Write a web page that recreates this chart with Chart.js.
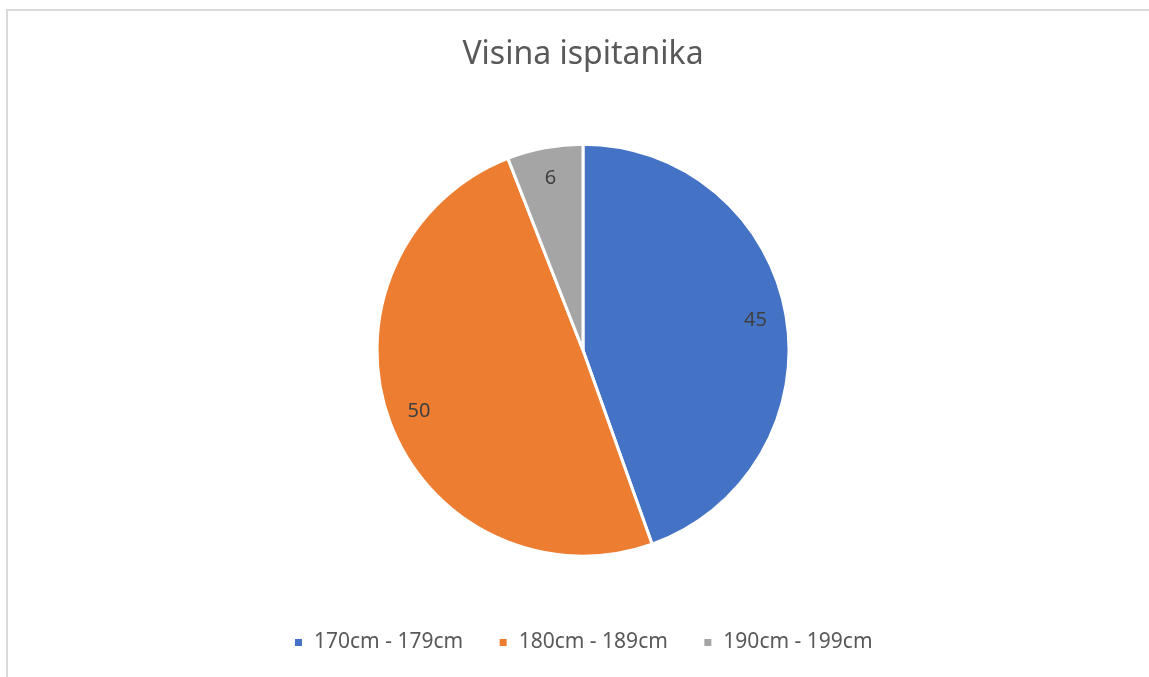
<!DOCTYPE html>
<html>
<head>
<meta charset="utf-8">
<script src="https://cdn.jsdelivr.net/npm/chart.js@4"></script>
<style>
  html, body { margin: 0; padding: 0; background: #fff; overflow: hidden; }
  #frame { position: absolute; left: 6px; top: 9px; width: 1160px; height: 700px; border: 2px solid #d9d9d9; box-sizing: border-box; }
  #wrap { position: absolute; left: 0; top: 0; width: 1149px; height: 677px; }
</style>
</head>
<body>
<div id="frame"></div>
<div id="wrap"><canvas id="pieChart"></canvas></div>
<script>
const categories = ['170cm - 179cm', '180cm - 189cm', '190cm - 199cm'];
const counts = [45, 50, 6];
const sliceColors = ['#4472c4', '#ed7d31', '#a5a5a5'];

// draws the value inside each slice, Excel style
const sliceLabels = {
  id: 'sliceLabels',
  afterDatasetsDraw(chart) {
    const { ctx } = chart;
    const meta = chart.getDatasetMeta(0);
    ctx.save();
    ctx.font = '20px "Noto Sans"';
    ctx.fillStyle = '#404040';
    ctx.textAlign = 'center';
    ctx.textBaseline = 'middle';
    meta.data.forEach((arc, i) => {
      const mid = (arc.startAngle + arc.endAngle) / 2;
      const r = arc.outerRadius * 0.85;
      ctx.fillText(String(counts[i]), arc.x + Math.cos(mid) * r, arc.y + Math.sin(mid) * r);
    });
    ctx.restore();
  }
};

new Chart(document.getElementById('pieChart'), {
  type: 'pie',
  data: {
    labels: categories,
    datasets: [{
      data: counts,
      backgroundColor: sliceColors,
      borderColor: '#ffffff',
      borderWidth: 3,
      radius: 206
    }]
  },
  options: {
    responsive: true,
    maintainAspectRatio: false,
    animation: false,
    layout: { padding: { left: 17, right: 0, top: 10, bottom: 14 } },
    plugins: {
      title: {
        display: true,
        text: 'Visina ispitanika',
        color: '#595959',
        font: { family: '"Noto Sans"', size: 32, weight: 'normal' },
        padding: { top: 26, bottom: 29 }
      },
      legend: {
        position: 'bottom',
        labels: {
          color: '#595959',
          font: { family: '"Noto Sans"', size: 21 },
          boxWidth: 10,
          boxHeight: 10,
          padding: 35
        }
      },
      tooltip: { enabled: false }
    }
  },
  plugins: [sliceLabels]
});
</script>
</body>
</html>
